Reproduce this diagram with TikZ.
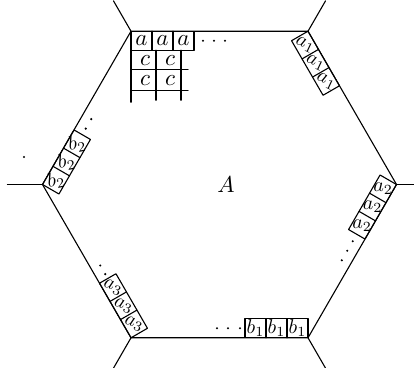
\documentclass[tikz,border=0pt]{standalone}
\usepackage{graphicx}
\begin{document}
\begin{tikzpicture}[x=1pt,y=1pt,line width=1.1pt,line cap=round,line join=round,
  lbl/.style={inner sep=0pt},
  dotmark/.style={fill=black,circle,inner sep=0pt,minimum size=2.4pt}]
\useasboundingbox (0,0) rectangle (414,367);
\coordinate (C) at (219.5,182.5);
\foreach \k in {0,...,5} {\path (C) ++(60*\k:177) coordinate (V\k);}
% hexagon
\draw (V0)--(V1)--(V2)--(V3)--(V4)--(V5)--cycle;
% outward lines
\foreach \k in {0,...,5} {\draw (V\k) -- ++(60*\k:35) coordinate (E\k);}
% cell strips
\foreach \k/\lab/\tilt/\sc in {2/{a}/0/2.3, 1/{a_1}/-25/2.0, 0/{a_2}/0/2.0, 5/{b_1}/0/2.0, 4/{a_3}/-20/2.0, 3/{b_2}/10/2.0} {
  \begin{scope}[shift={(V\k)},rotate=60*\k-120]
    \draw (0,0) rectangle (63,-19);
    \draw (21,0)--(21,-19) (42,0)--(42,-19);
    \foreach \i in {0,1,2} {\node[lbl,rotate=\tilt] (L\k\i) at (10.5+21*\i,-9.5) {\scalebox{\sc}{$\lab$}};}
  \end{scope}
}
% continuation dots
\foreach \k/\dl in {2/{72,83,94}, 0/{71,82,93}, 5/{68,80,91}, 4/{68,78}, 3/{70,81}} {
  \begin{scope}[shift={(V\k)},rotate=60*\k-120]
    \foreach \d in \dl {\node[dotmark] at (\d,-9.5) {};}
  \end{scope}
}
% c grid below the top strip
\begin{scope}[shift={(V2)}]
  \draw (0,-19)--(0,-71) (25,-19)--(25,-69) (50,-19)--(50,-69);
  \draw (0,-38)--(57,-38) (0,-59)--(57,-59);
  \node[lbl] (c1) at (14,-29) {\scalebox{2.3}{$c$}};
  \node[lbl] (c2) at (39,-29) {\scalebox{2.3}{$c$}};
  \node[lbl] (c3) at (14,-49) {\scalebox{2.3}{$c$}};
  \node[lbl] (c4) at (39,-49) {\scalebox{2.3}{$c$}};
\end{scope}
\node[lbl] (A) at (226,182) {\scalebox{2.3}{$A$}};
\node[dotmark] (stray) at (24,210) {};
\end{tikzpicture}
\end{document}
